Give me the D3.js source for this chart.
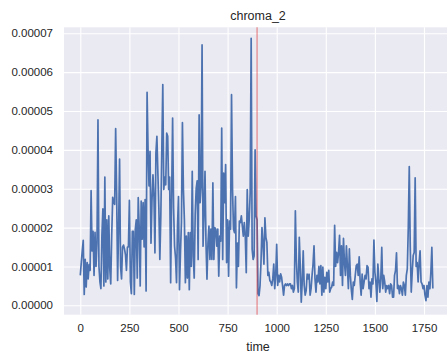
<!DOCTYPE html>
<html>
<head>
<meta charset="utf-8">
<script src="https://cdn.jsdelivr.net/npm/d3@7"></script>
<style>
  html, body { margin: 0; padding: 0; background: #ffffff; }
  svg { display: block; }
  text { font-family: "Liberation Sans", Arial, sans-serif; fill: #262626; }
</style>
</head>
<body>
<svg id="chart" width="447" height="358"></svg>
<script>
// chroma_2 feature sampled every 5 time units, values stored in units of 1e-5
const timeStep = 5;
const valueUnit = 1e-5;
const chroma2 = [
  0.77, 1.1, 1.4, 1.67, 0.28, 1.18, 0.47, 1.1, 0.68, 1.05, 0.9, 2.95, 1.4, 1.9, 0.77, 1.88, 1.0, 1.6, 4.77, 1.0,
  0.6, 0.43, 1.8, 2.48, 0.5, 3.3, 0.6, 2.2, 0.68, 2.3, 0.95, 0.55, 1.8, 2.78, 2.65, 2.6, 4.55, 2.9, 0.64, 1.97,
  3.76, 1.0, 0.68, 1.5, 1.55, 1.45, 1.3, 0.9, 1.5, 1.5, 2.7, 0.6, 0.3, 1.9, 1.9, 0.28, 1.95, 2.2, 0.7, 2.77,
  2.0, 0.5, 2.68, 1.7, 2.64, 1.5, 2.72, 0.37, 5.48, 4.0, 3.07, 3.96, 1.6, 2.7, 3.36, 2.8, 1.35, 3.92, 4.35, 3.4,
  2.5, 1.18, 2.3, 4.0, 5.68, 2.98, 3.3, 3.1, 4.43, 4.35, 2.98, 3.3, 0.58, 2.8, 4.82, 2.5, 1.52, 1.22, 0.58, 2.04,
  2.8, 0.4, 1.35, 2.13, 4.7, 2.98, 2.2, 0.58, 1.78, 0.7, 1.87, 0.4, 1.87, 1.0, 3.45, 1.27, 0.7, 2.34, 3.0, 3.2,
  1.18, 4.9, 2.64, 3.05, 6.7, 1.52, 2.4, 3.45, 1.6, 0.67, 1.6, 2.04, 1.18, 1.96, 1.18, 3.15, 1.18, 2.0, 1.96, 1.52,
  1.96, 0.75, 1.78, 1.65, 4.56, 1.18, 3.4, 2.64, 3.62, 1.1, 2.2, 0.75, 2.17, 1.96, 5.42, 3.0, 1.96, 1.87, 2.8, 0.45,
  1.6, 1.0, 2.17, 2.13, 2.3, 2.04, 1.78, 2.13, 1.78, 0.84, 2.98, 1.78, 2.2, 2.9, 6.87, 1.44, 1.18, 1.27, 4.0, 2.3,
  2.2, 0.3, 0.25, 0.5, 1.1, 2.0, 1.6, 1.06, 2.25, 1.75, 1.62, 0.77, 0.85, 0.64, 0.6, 0.51, 0.68, 1.06, 0.43, 0.77,
  1.57, 0.51, 0.77, 0.6, 0.81, 0.72, 0.5, 0.26, 0.51, 0.55, 0.51, 0.55, 0.51, 0.55, 0.55, 0.43, 0.51, 0.34, 0.43, 2.43,
  1.19, 0.6, 0.34, 1.75, 1.02, 0.08, 0.6, 1.4, 0.51, 0.26, 0.38, 0.8, 0.68, 0.8, 0.26, 0.43, 0.77, 1.06, 1.53, 0.68,
  0.34, 0.77, 0.6, 1.0, 0.55, 1.02, 0.26, 0.98, 0.34, 0.72, 0.43, 0.85, 0.6, 0.9, 0.34, 0.43, 0.47, 0.6, 0.51, 2.06,
  1.0, 1.36, 1.1, 1.36, 1.8, 0.77, 1.53, 0.51, 1.72, 1.1, 0.77, 1.53, 1.0, 0.43, 1.45, 0.77, 0.4, 0.15, 0.6, 0.51,
  0.77, 1.02, 1.06, 0.77, 1.25, 0.6, 0.26, 0.8, 0.43, 0.6, 0.77, 0.68, 1.02, 0.98, 0.43, 0.6, 0.21, 0.68, 0.55, 1.68,
  0.85, 0.6, 0.1, 1.06, 0.68, 0.34, 0.68, 1.49, 0.43, 0.77, 0.6, 0.34, 0.51, 0.43, 0.51, 0.3, 0.55, 0.51, 0.21, 0.21,
  0.77, 0.9, 1.35, 0.43, 0.51, 0.3, 0.51, 0.43, 0.26, 0.6, 0.51, 0.26, 0.77, 0.94, 2.0, 3.57, 1.5, 0.34, 0.85, 1.28,
  1.36, 3.28, 1.0, 1.1, 0.6, 1.1, 1.4, 0.6, 0.55, 0.43, 0.51, 0.26, 0.12, 0.51, 0.21, 0.6, 0.43, 0.85, 1.49, 0.43
];
const xTicks = [0, 250, 500, 750, 1000, 1250, 1500, 1750];
const yTicks = [0, 0.00001, 0.00002, 0.00003, 0.00004, 0.00005, 0.00006, 0.00007];
const markerTime = 900;
const titleText = "chroma_2";
const xLabelText = "time";

const series = chroma2.map((v, i) => ({ t: i * timeStep, v: v * valueUnit }));

const svg = d3.select("#chart");
const plot = { left: 64, right: 452, top: 27.3, bottom: 314.7 };

const x = d3.scaleLinear().domain([0, 1750]).range([80.3, 424]);
const y = d3.scaleLinear().domain([0, 0.00007]).range([305.3, 33.3]);

// axes background
svg.append("rect")
  .attr("x", plot.left).attr("y", plot.top)
  .attr("width", plot.right - plot.left).attr("height", plot.bottom - plot.top)
  .attr("fill", "#eaeaf2");

// grid lines
const xGrid = svg.append("g")
  .attr("transform", `translate(0,${plot.bottom})`)
  .call(d3.axisBottom(x).tickValues(xTicks).tickSize(-(plot.bottom - plot.top)).tickFormat(""));
const yGrid = svg.append("g")
  .attr("transform", `translate(${plot.left},0)`)
  .call(d3.axisLeft(y).tickValues(yTicks).tickSize(-(plot.right - plot.left)).tickFormat(""));
[xGrid, yGrid].forEach(g => {
  g.select(".domain").remove();
  g.selectAll("line").attr("stroke", "#ffffff").attr("stroke-width", 1.1);
});

// tick labels
const xLab = svg.append("g")
  .attr("transform", `translate(0,${plot.bottom})`)
  .call(d3.axisBottom(x).tickValues(xTicks).tickSize(0).tickPadding(9).tickFormat(d3.format("d")));
const yLab = svg.append("g")
  .attr("transform", `translate(${plot.left},0)`)
  .call(d3.axisLeft(y).tickValues(yTicks).tickSize(0).tickPadding(11).tickFormat(d3.format(".5f")));
[xLab, yLab].forEach(g => {
  g.select(".domain").remove();
  g.selectAll("text").attr("font-size", "11.5px").attr("fill", "#262626")
    .attr("font-family", "'Liberation Sans', Arial, sans-serif");
});

// data line
const line = d3.line().x(d => x(d.t)).y(d => y(d.v));
svg.append("path")
  .datum(series)
  .attr("d", line)
  .attr("fill", "none")
  .attr("stroke", "#4c72b0")
  .attr("stroke-width", 1.7)
  .attr("stroke-linejoin", "round")
  .attr("stroke-linecap", "butt");

// vertical marker
svg.append("line")
  .attr("x1", x(markerTime)).attr("x2", x(markerTime))
  .attr("y1", plot.top).attr("y2", plot.bottom)
  .attr("stroke", "#e03030").attr("stroke-opacity", 0.6).attr("stroke-width", 1.1);

// title and axis label
svg.append("text")
  .attr("x", (plot.left + plot.right) / 2).attr("y", 19.5)
  .attr("text-anchor", "middle").attr("font-size", "12.5px")
  .text(titleText);
svg.append("text")
  .attr("x", (plot.left + plot.right) / 2).attr("y", 350.5)
  .attr("text-anchor", "middle").attr("font-size", "12.5px")
  .text(xLabelText);
</script>
</body>
</html>
